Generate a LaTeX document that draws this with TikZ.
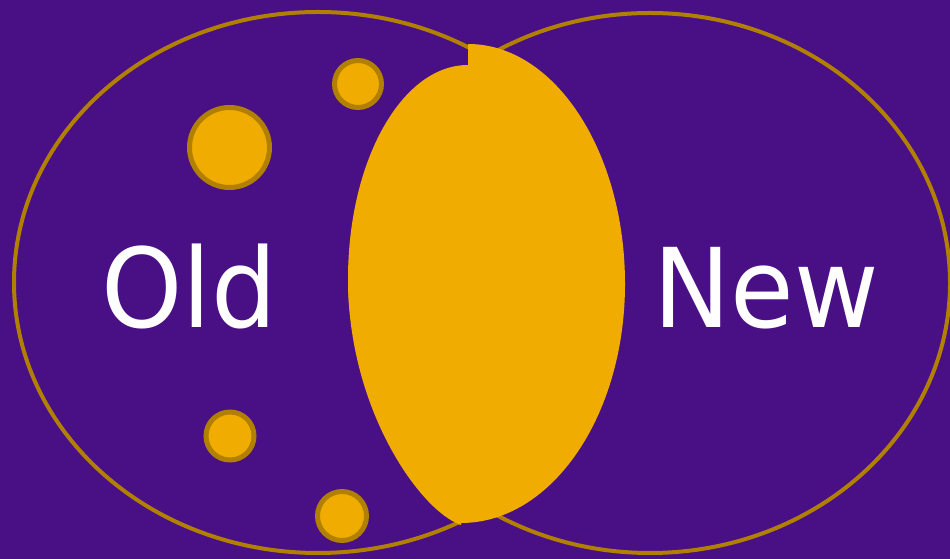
\documentclass[tikz,border=0pt]{standalone}
\usepackage{fontspec}
\setmainfont{DejaVu Sans}
\definecolor{bgpurple}{RGB}{72,16,132}
\definecolor{goldline}{RGB}{178,128,0}
\definecolor{goldfill}{RGB}{240,172,0}
\begin{document}
\begin{tikzpicture}[x=1pt,y=1pt,
  ring/.style={draw=goldline,line width=4pt},
  dot/.style={circle,draw=goldline,fill=goldfill,line width=5pt,inner sep=0pt},
  label/.style={text=white,anchor=base,font=\fontsize{110}{110}\selectfont,xscale=0.94}]
\fill[bgpurple] (0,0) rectangle (950,559);
\useasboundingbox (0,0) rectangle (950,559);
% two sets
\draw[ring] (318,276.5) ellipse [x radius=304,y radius=270.5];
\draw[ring] (650,276) ellipse [x radius=300,y radius=270];
% small dots
\node[dot,minimum size=80pt] (d1) at (229.5,411.5) {};
\node[dot,minimum size=47pt] (d2) at (358,475) {};
\node[dot,minimum size=48pt] (d3) at (230,123) {};
\node[dot,minimum size=49pt] (d4) at (342,43) {};
% lens (overlap)
\fill[goldfill] (468,515) arc[start angle=90,end angle=0,x radius=157,y radius=240]
  arc[start angle=0,end angle=-90,x radius=164,y radius=239]
  -- (461,34)
  .. controls (420,48) and (348,150) .. (348,280)
  arc[start angle=180,end angle=90,x radius=120,y radius=214]
  -- cycle;
% labels
\node[label] (old) at (189,231) {Old};
\node[label] (new) at (766,231) {New};
\end{tikzpicture}
\end{document}
